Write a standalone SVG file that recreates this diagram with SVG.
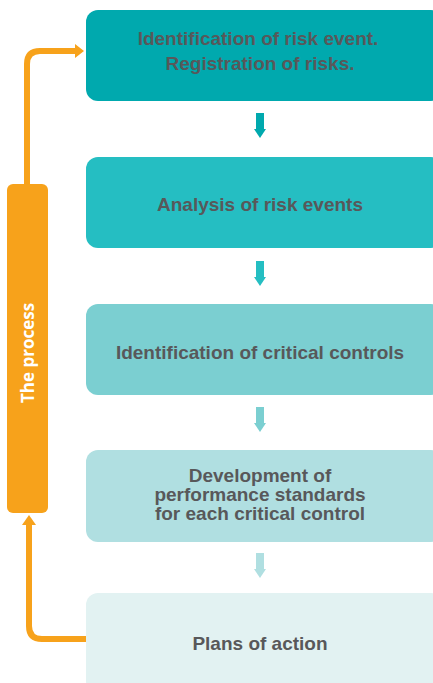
<svg xmlns="http://www.w3.org/2000/svg" width="433" height="683" viewBox="0 0 433 683">
<defs>
<style>
.box text{font-family:"Liberation Sans",Arial,sans-serif;font-weight:bold;font-size:19px;fill:#58585a;text-anchor:middle}
.lbl{font-family:"Open Sans","Liberation Sans",sans-serif;font-weight:bold;font-size:17px;fill:#ffffff;text-anchor:middle}
.loop{fill:none;stroke:#F7A21B;stroke-width:6;stroke-linejoin:round}
</style>
</defs>
<rect width="433" height="683" fill="#ffffff"/>
<g id="connectors">
<path class="loop" d="M27,184 V64 Q27,51 40,51 H76"/>
<polygon points="75,44 84,51 75,58" fill="#F7A21B"/>
<path class="loop" d="M86,639 H42 Q29,639 29,626 V524"/>
<polygon points="22,525 29,515 36,525" fill="#F7A21B"/>
<g id="arrow1"><rect x="256" y="113" width="8" height="17" fill="#00A9AE"/><polygon points="254,129 266,129 260,138" fill="#00A9AE"/></g>
<g id="arrow2"><rect x="256" y="261" width="8" height="17" fill="#25BEC2"/><polygon points="254,277 266,277 260,286" fill="#25BEC2"/></g>
<g id="arrow3"><rect x="256" y="407" width="8" height="17" fill="#7BCFD1"/><polygon points="254,423 266,423 260,432" fill="#7BCFD1"/></g>
<g id="arrow4"><rect x="256" y="553" width="8" height="17" fill="#B0DFE1"/><polygon points="254,569 266,569 260,578" fill="#B0DFE1"/></g>
</g>
<g id="process">
<rect x="7" y="184" width="41" height="329" rx="6" fill="#F7A21B"/>
<text class="lbl" transform="translate(34,353) rotate(-90)">The process</text>
</g>
<g id="node1" class="box">
<rect x="86" y="10" width="357" height="91" rx="12" fill="#00A9AE"/>
<text x="258" y="45">Identification of risk event.</text>
<text x="260" y="70">Registration of risks.</text>
</g>
<g id="node2" class="box">
<rect x="86" y="157" width="357" height="91" rx="12" fill="#25BEC2"/>
<text x="260" y="211">Analysis of risk events</text>
</g>
<g id="node3" class="box">
<rect x="86" y="304" width="357" height="91" rx="12" fill="#7BCFD1"/>
<text x="260" y="359">Identification of critical controls</text>
</g>
<g id="node4" class="box">
<rect x="86" y="450" width="357" height="92" rx="12" fill="#B0DFE1"/>
<text x="260" y="482">Development of</text>
<text x="260" y="501">performance standards</text>
<text x="260" y="520">for each critical control</text>
</g>
<g id="node5" class="box">
<rect x="86" y="593" width="357" height="100" rx="12" fill="#E2F2F2"/>
<text x="260" y="650">Plans of action</text>
</g>
</svg>
